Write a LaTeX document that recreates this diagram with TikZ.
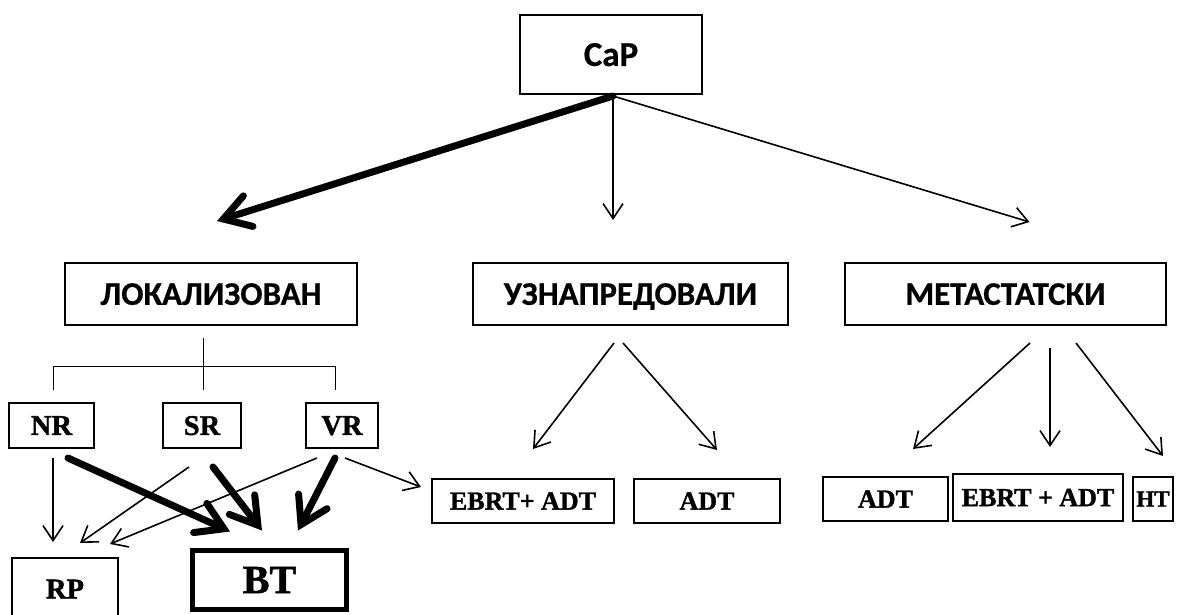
\documentclass[tikz,border=0pt]{standalone}
\usepackage{fontspec}
\setmainfont{Liberation Serif}
\newfontfamily\calfont{Carlito}[FakeBold=0.6]
\newfontfamily\serb{Liberation Serif Bold}[FakeBold=1.3]
\usetikzlibrary{arrows.meta}
\begin{document}
\begin{tikzpicture}[x=1pt,y=-1pt,
  box/.style={draw, line width=2pt, inner sep=0pt, text depth=0pt,
    font=\serb\fontsize{26}{26}\selectfont},
  topbox/.style={box, font=\calfont\bfseries\fontsize{33}{33}\selectfont},
  lbl/.style={font=\serb\fontsize{28.5}{28.5}\selectfont},
  thinarr/.style={line width=1.6pt, -{Straight Barb[length=15pt,width=20pt]}},
  thickarr/.style={line width=7pt, line cap=round,
    -{Straight Barb[length=26pt,width=32pt,line cap=round]}},
  tree/.style={line width=1pt}]
\useasboundingbox (0,0) rectangle (1179,614);

% top
\node[topbox, font=\calfont\bfseries\fontsize{35}{35}\selectfont, minimum width=182pt, minimum height=79pt] (cap) at (611,54.5) {CaP};
\node[topbox, minimum width=292pt, minimum height=62pt] (lok) at (211,294) {ЛОКАЛИЗОВАН};
\node[topbox, minimum width=315pt, minimum height=62pt] (uzn) at (630.5,294) {УЗНАПРЕДОВАЛИ};
\node[topbox, minimum width=321pt, minimum height=62pt] (met) at (1005.5,294) {МЕТАСТАТСКИ};

% risk groups
\node[box, lbl, minimum width=85pt, minimum height=45pt] (nr) at (51.5,425.5) {NR};
\node[box, lbl, minimum width=78pt, minimum height=45pt] (sr) at (202,425.5) {SR};
\node[box, lbl, minimum width=72pt, minimum height=45pt] (vr) at (342,425.5) {VR};

% treatments
\node[box, lbl, minimum width=106pt, minimum height=62pt] (rp) at (65,589) {RP};
\node[box, line width=5pt, font=\serb\fontsize{40}{40}\selectfont, minimum width=154pt, minimum height=59pt] (bt) at (269.5,580) {BT};
\node[box, minimum width=182pt, minimum height=44pt] (ebrta) at (523,501) {EBRT+ ADT};
\node[box, minimum width=146pt, minimum height=44pt] (adta) at (707,501) {ADT};
\node[box, minimum width=125pt, minimum height=44pt] (adtb) at (885.5,499) {ADT};
\node[box, minimum width=170pt, minimum height=47pt] (ebrtb) at (1038,497.5) {EBRT + ADT};
\node[box, font=\serb\fontsize{23}{23}\selectfont, minimum width=40pt, minimum height=44pt] (ht) at (1153,499) {HT};

% from CaP
\draw[thickarr] ([shift={(2,1)}]cap.south) -- ([shift={(6,-41)}]lok.north);
\draw[thinarr] ([shift={(2,1)}]cap.south) -- ([shift={(-17.5,-42)}]uzn.north);
\draw[thinarr] ([shift={(2,1)}]cap.south) -- ([shift={(24,-40)}]met.north);

% localized tree
\draw[tree] ([shift={(-8,12)}]lok.south) -- ([shift={(1,-12)}]sr.north);
\draw[tree] ([shift={(1.5,-12)}]nr.north) -- ++(0,-24) -| ([shift={(-7,-12)}]vr.north);

% advanced
\draw[thinarr] ([shift={(-16.5,17)}]uzn.south) -- ([shift={(10,-29)}]ebrta.north);
\draw[thinarr] ([shift={(-7.5,17)}]uzn.south) -- ([shift={(10,-28)}]adta.north);

% metastatic
\draw[thinarr] ([shift={(24.5,17)}]met.south) -- ([shift={(27.5,-27)}]adtb.north);
\draw[thinarr] ([shift={(44.5,22)}]met.south) -- ([shift={(12,-26)}]ebrtb.north);
\draw[thinarr] ([shift={(70.5,17)}]met.south) -- ([shift={(10,-20)}]ht.north);

% risk groups to treatments
\draw[thinarr] ([shift={(1.5,9)}]nr.south) -- ([shift={(-12,-15)}]rp.north);
\draw[thinarr] ([shift={(-13,18)}]sr.south) -- ([shift={(15,-14)}]rp.north);
\draw[thinarr] ([shift={(-25,9)}]vr.south) -- ([shift={(45,-13)}]rp.north);
\draw[thinarr] ([shift={(3,9)}]vr.south) -- ([shift={(-10,-14)}]ebrta.west);
\draw[thickarr] ([shift={(16.5,9)}]nr.south) -- ([shift={(-39.5,-16.5)}]bt.north);
\draw[thickarr] ([shift={(11,18)}]sr.south) -- ([shift={(-7.5,-17.5)}]bt.north);
\draw[thickarr] ([shift={(-7,9)}]vr.south) -- ([shift={(28.5,-17.5)}]bt.north);
\end{tikzpicture}
\end{document}
